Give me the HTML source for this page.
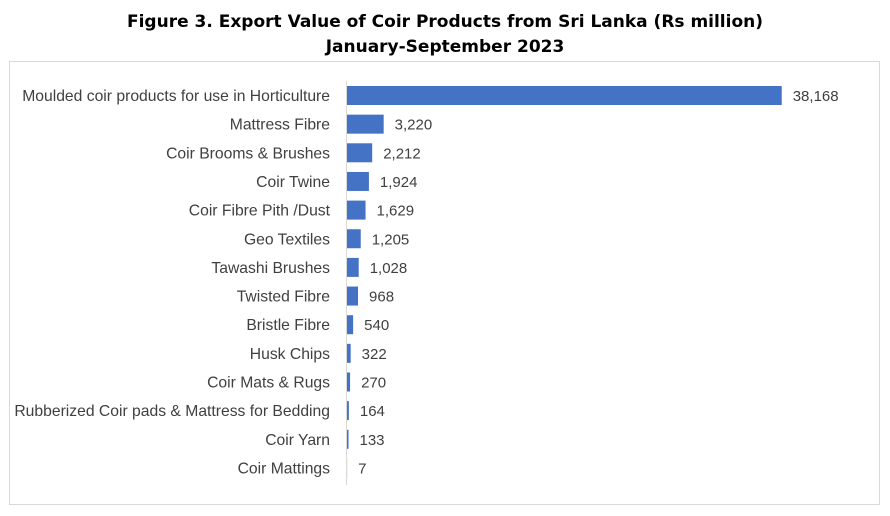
<!DOCTYPE html>
<html><head><meta charset="utf-8"><style>
body{margin:0;background:#fff;width:890px;height:511px;overflow:hidden}
</style></head><body>
<svg width="890" height="511" xmlns="http://www.w3.org/2000/svg">
<text x="445" y="27" text-anchor="middle" font-family="DejaVu Sans" font-weight="bold" font-size="17" fill="#000">Figure 3. Export Value of Coir Products from Sri Lanka (Rs million)</text>
<text x="445" y="52" text-anchor="middle" font-family="DejaVu Sans" font-weight="bold" font-size="17" fill="#000">January-September 2023</text>
<rect x="9.5" y="61.5" width="870" height="443" fill="none" stroke="#d9d9d9"/>
<line x1="346.5" y1="81" x2="346.5" y2="485" stroke="#d9d9d9"/>
<g font-family="Liberation Sans, sans-serif" fill="#404040" id="g"></g>
</svg>
<script>
var d=[["Moulded coir products for use in Horticulture",38168],["Mattress Fibre",3220],["Coir Brooms & Brushes",2212],["Coir Twine",1924],["Coir Fibre Pith /Dust",1629],["Geo Textiles",1205],["Tawashi Brushes",1028],["Twisted Fibre",968],["Bristle Fibre",540],["Husk Chips",322],["Coir Mats & Rugs",270],["Rubberized Coir pads & Mattress for Bedding",164],["Coir Yarn",133],["Coir Mattings",7]];
var g=document.getElementById('g'),h='';
d.forEach(function(r,i){var y=86+i*28.65,w=r[1]*0.01139,c=y+9.5;
h+='<text x="330" y="'+(c+5.5)+'" text-anchor="end" font-size="15.7">'+r[0].replace('&','&amp;')+'</text>';
h+='<rect x="347" y="'+y+'" width="'+w+'" height="19" fill="#4472c4"/>';
h+='<text x="'+(347+w+11)+'" y="'+(c+5.5)+'" font-size="15">'+r[1].toLocaleString('en-US')+'</text>';});
g.innerHTML=h;
</script>
</body></html>
